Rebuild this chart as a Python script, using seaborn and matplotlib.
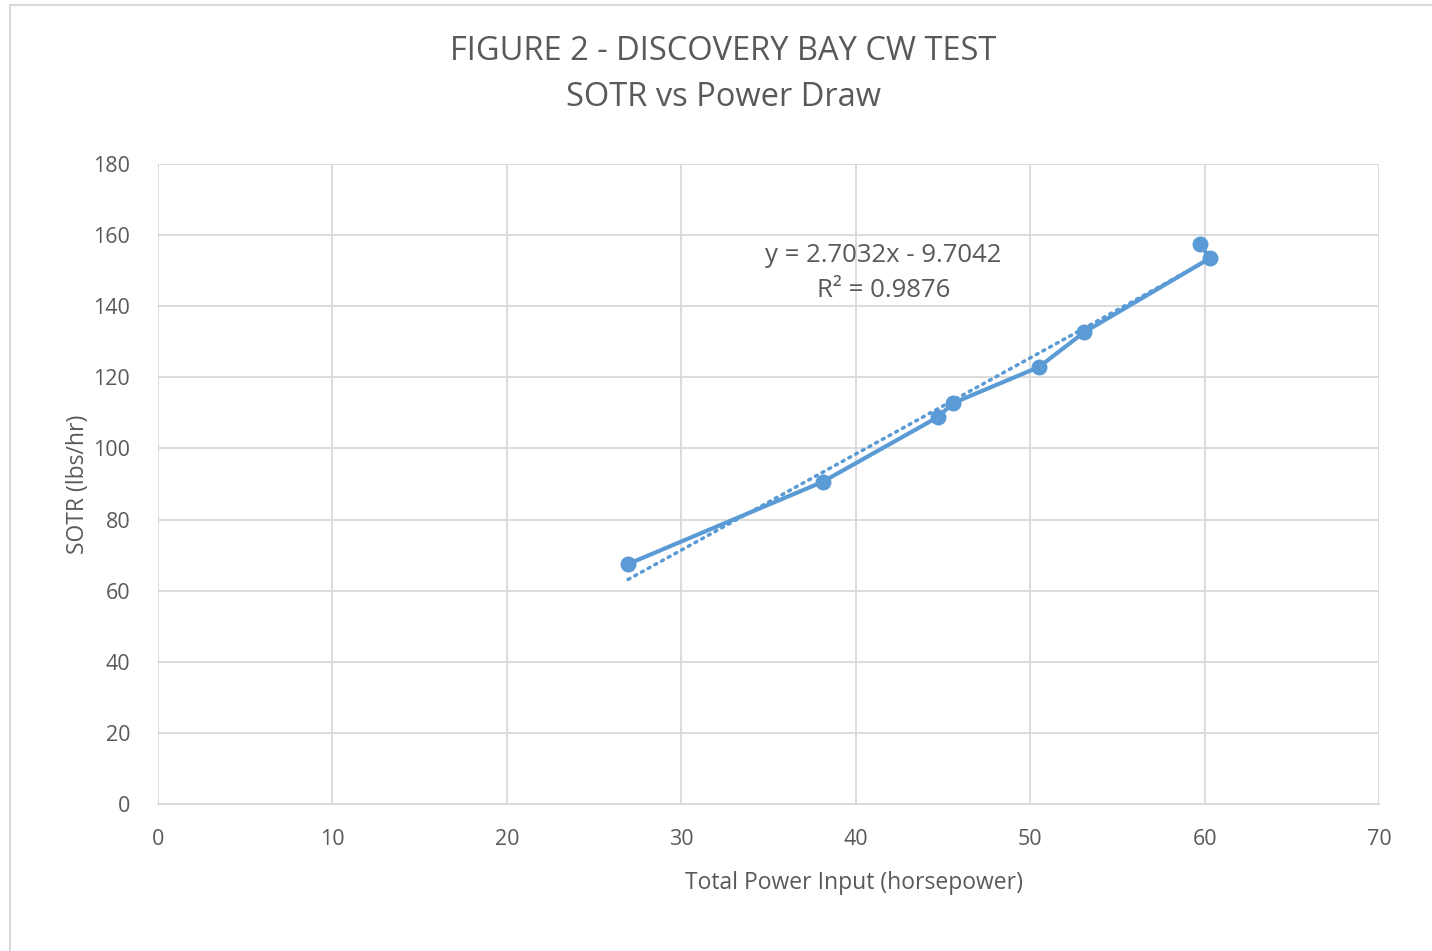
import matplotlib.pyplot as plt
import numpy as np
import pandas as pd
import seaborn as sns
from matplotlib.patches import Rectangle

# test readings, in plotting order
power_hp = [26.95, 38.1, 44.7, 45.6, 50.5, 53.1, 60.3, 59.75]
sotr = [67.5, 90.6, 108.8, 112.8, 122.9, 132.7, 153.5, 157.5]

slope, intercept = 2.7032, -9.7042
r_squared = 0.9876

df = pd.DataFrame({"power": power_hp, "sotr": sotr})

blue = "#5B9BD5"
grey_txt = "#595959"
grid_c = "#D9D9D9"

sns.set_style("white")
plt.rcParams["font.family"] = ["Open Sans", "DejaVu Sans"]

fig = plt.figure(figsize=(14.32, 9.51), dpi=100)
ax = fig.add_axes([0.1103, 0.1546, 0.8527, 0.6729])

# chart frame like the spreadsheet export
fig.patches.append(Rectangle((0.007, -0.1), 1.2, 1.095, transform=fig.transFigure,
                             fill=False, edgecolor="#D9D9D9", lw=1.5))

sns.lineplot(data=df, x="power", y="sotr", sort=False, ax=ax, color=blue, lw=3,
             marker="o", markersize=11.5, markeredgewidth=0, zorder=3)

# linear trendline
tx = np.array([min(power_hp), max(power_hp)])
ax.plot(tx, slope * tx + intercept, color=blue, lw=2.5, ls=(0, (0.6, 1.6)),
        dash_capstyle="round", zorder=2)

ax.set_xlim(0, 70)
ax.set_ylim(0, 180)
ax.set_xticks(range(0, 71, 10))
ax.set_yticks(range(0, 181, 20))
ax.grid(True, color=grid_c, lw=1.3)
ax.set_axisbelow(True)
for s in ["top", "right", "left"]:
    ax.spines[s].set_visible(False)
ax.spines["bottom"].set_color(grid_c)
ax.spines["bottom"].set_linewidth(1.3)
ax.tick_params(length=0, labelsize=15.5, labelcolor=grey_txt)
ax.tick_params(axis="x", pad=18)
ax.tick_params(axis="y", pad=20)

ax.set_xlabel("Total Power Input (horsepower)", fontsize=16.5, color=grey_txt)
ax.xaxis.set_label_coords(0.57, -0.105)
ax.set_ylabel("SOTR (lbs/hr)", fontsize=16.5, color=grey_txt)
ax.yaxis.set_label_coords(-0.056, 0.5)

fig.text(0.505, 0.946, "FIGURE 2 - DISCOVERY BAY CW TEST", ha="center", va="center",
         fontsize=23.5, color=grey_txt)
fig.text(0.505, 0.898, "SOTR vs Power Draw", ha="center", va="center",
         fontsize=23.5, color=grey_txt)

ax.text(41.6, 149.4, f"y = {slope}x - {abs(intercept)}\nR² = {r_squared}",
        ha="center", va="center", fontsize=18.5, color=grey_txt, linespacing=1.55)

fig.savefig("out.png", dpi=100)
